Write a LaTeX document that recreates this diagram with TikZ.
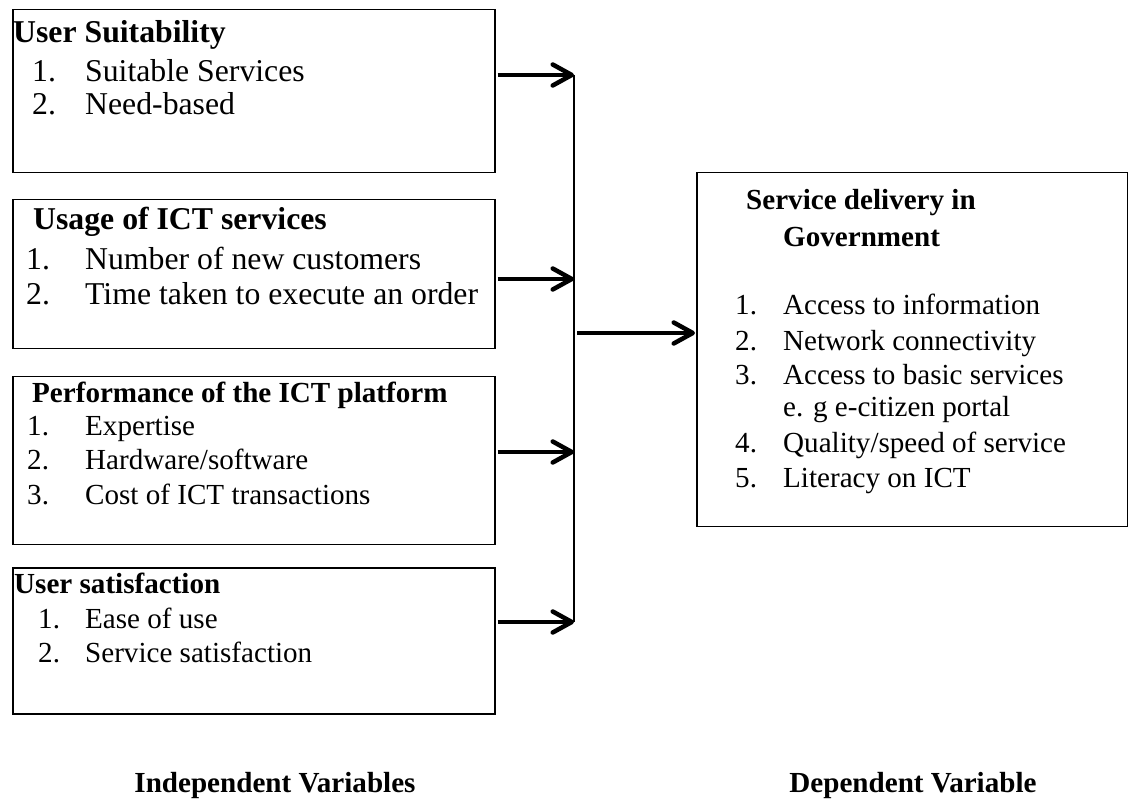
\documentclass[tikz,border=0pt]{standalone}
\usepackage{fontspec}
\setmainfont{Liberation Serif}
\usetikzlibrary{arrows.meta}
\tikzset{
  box/.style={draw, line width=1.5pt, inner sep=0pt, anchor=north west},
  big/.style={font=\fontsize{31.75}{36}\selectfont, anchor=base west, inner sep=0pt},
  bigb/.style={font=\fontsize{31.75}{36}\selectfont\bfseries, anchor=base west, inner sep=0pt},
  sml/.style={font=\fontsize{29.1}{33}\selectfont, anchor=base west, inner sep=0pt},
  smlb/.style={font=\fontsize{29.1}{33}\selectfont\bfseries, anchor=base west, inner sep=0pt},
  lbl/.style={font=\fontsize{29.1}{33}\selectfont\bfseries, anchor=base, inner sep=0pt},
  arr/.style={line width=4.5pt, -{Straight Barb[length=19pt, width=21pt, round]}},
  bus/.style={line width=2pt},
}
\begin{document}
\begin{tikzpicture}[x=1pt, y=-1pt]
\useasboundingbox (0,0) rectangle (1128,799);
% boxes
\node[box, minimum width=482pt, minimum height=163pt] (b1) at (12,9) {};
\node[box, minimum width=482pt, minimum height=149pt] (b2) at (12,199) {};
\node[box, minimum width=482pt, minimum height=168pt] (b3) at (12,376) {};
\node[box, minimum width=482pt, minimum height=146pt] (b4) at (12,567) {};
\node[box, minimum width=431pt, minimum height=354pt] (rb) at (696,172) {};
% box 1
\node[bigb] (h1) at (13,43) {User Suitability};
\node[big] (n11) at (32,82) {1.};
\node[big] (t11) at (85,82) {Suitable Services};
\node[big] (n12) at (32,115) {2.};
\node[big] (t12) at (85,115) {Need-based};
% box 2
\node[bigb] (h2) at (33,230) {Usage of ICT services};
\node[big] (n21) at (26,270) {1.};
\node[big] (t21) at (85,270) {Number of new customers};
\node[big] (n22) at (26,305) {2.};
\node[big] (t22) at (85,305) {Time taken to execute an order};
% box 3
\node[smlb] (h3) at (32,403) {Performance of the ICT platform};
\node[sml] (n31) at (27,436) {1.};
\node[sml] (t31) at (85,436) {Expertise};
\node[sml] (n32) at (27,470) {2.};
\node[sml] (t32) at (85,470) {Hardware/software};
\node[sml] (n33) at (27,504) {3.};
\node[sml] (t33) at (85,504) {Cost of ICT transactions};
% box 4
\node[smlb] (h4) at (14,594) {User satisfaction};
\node[sml] (n41) at (38,628) {1.};
\node[sml] (t41) at (85,628) {Ease of use};
\node[sml] (n42) at (38,662) {2.};
\node[sml] (t42) at (85,662) {Service satisfaction};
% right box
\node[smlb] (hr1) at (746,210) {Service delivery in};
\node[smlb] (hr2) at (783,247) {Government};
\node[sml] (nr1) at (735,315) {1.};
\node[sml] (tr1) at (783,315) {Access to information};
\node[sml] (nr2) at (735,351) {2.};
\node[sml] (tr2) at (783,351) {Network connectivity};
\node[sml] (nr3) at (735,385) {3.};
\node[sml] (tr3) at (783,385) {Access to basic services};
\node[sml] (tr3b) at (783,417) {e. g e-citizen portal};
\node[sml] (nr4) at (735,453) {4.};
\node[sml] (tr4) at (783,453) {Quality/speed of service};
\node[sml] (nr5) at (735,488) {5.};
\node[sml] (tr5) at (783,488) {Literacy on ICT};
% bottom labels
\node[lbl] (li) at (275,792) {Independent Variables};
\node[lbl] (ld) at (913,792) {Dependent Variable};
% connectors
\coordinate (j1) at (574,75);
\coordinate (j2) at (574,279);
\coordinate (j3) at (574,452);
\coordinate (j4) at (574,622);
\coordinate (jm) at (577,333);
\draw[bus] (j1) -- (j4);
\draw[arr] ([xshift=2pt]b1.east |- j1) -- (j1);
\draw[arr] ([xshift=2pt]b2.east |- j2) -- (j2);
\draw[arr] ([xshift=2pt]b3.east |- j3) -- (j3);
\draw[arr] ([xshift=2pt]b4.east |- j4) -- (j4);
\draw[arr] (jm) -- ([xshift=-1pt]rb.west |- jm);
\end{tikzpicture}
\end{document}
